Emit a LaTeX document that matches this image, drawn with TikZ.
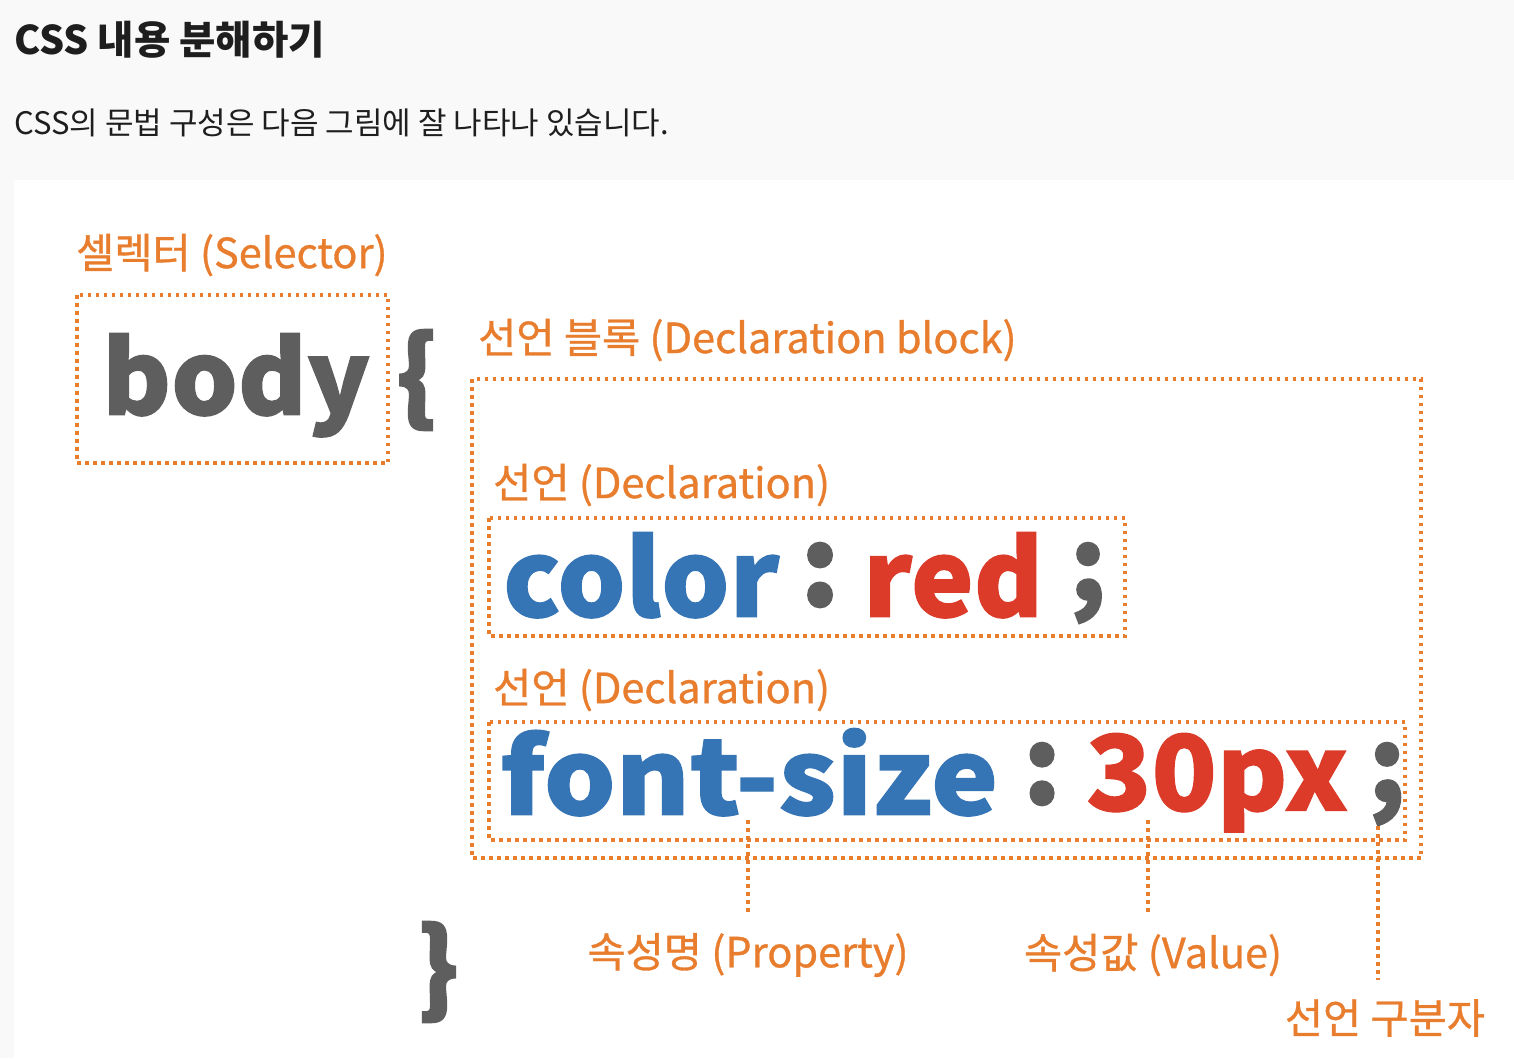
\documentclass[tikz,border=0pt]{standalone}
\usepackage{fontspec}
\usepackage{graphicx}
\setmainfont{Noto Sans CJK KR}
\newfontfamily\krfont{Noto Sans CJK KR}
\newfontfamily\krcode[FakeBold=1.2]{Noto Sans CJK KR}
\newfontfamily\krlbl[FakeBold=0.8]{Noto Sans CJK KR}
\newfontfamily\krheavy[FakeBold=2.5]{Noto Sans CJK KR}
\definecolor{bgtop}{HTML}{F9F9F9}
\definecolor{orng}{HTML}{E87D2E}
\definecolor{codeblue}{HTML}{3574B5}
\definecolor{codered}{HTML}{DB3B28}
\definecolor{codegray}{HTML}{5E5E5E}
\definecolor{txtdark}{HTML}{1E1E1E}
\newcommand{\codefit}[3]{\resizebox*{#1pt}{#2pt}{\krcode\bfseries\fontsize{120}{130}\selectfont #3}}
\newcommand{\punctfit}[2]{\resizebox*{!}{#1pt}{\krheavy\bfseries\fontsize{120}{130}\selectfont #2}}
\tikzset{
  dotline/.style={draw=orng, line width=3.5pt, dash pattern=on 3.5pt off 4.5pt},
  lbl/.style={text=orng, font=\krlbl\fontsize{41.5}{46}\selectfont, inner sep=0pt},
  code/.style={inner sep=0pt, anchor=north west},
  punct/.style={inner sep=0pt, anchor=center, text=codegray},
}
\begin{document}
\begin{tikzpicture}[x=1pt,y=-1pt]
\useasboundingbox (0,0) rectangle (1514,1058);
\fill[bgtop] (0,0) rectangle (1514,1058);
\fill[white] (14,180) rectangle (1514,1058);

% header texts
\node[anchor=west, inner sep=0pt, text=txtdark, font=\krfont\bfseries\fontsize{39.5}{46}\selectfont] (title) at (14,40) {CSS 내용 분해하기};
\node[anchor=west, inner sep=0pt, text=txtdark, font=\krfont\fontsize{31}{36}\selectfont] (sub) at (14,123) {CSS의 문법 구성은 다음 그림에 잘 나타나 있습니다.};

% boxes
\draw[dotline] (77,295) rectangle (388,463);
\draw[dotline] (472,379) rectangle (1421,858);
\draw[dotline] (489,518) rectangle (1125,636);
\draw[dotline] (489,722) rectangle (1405,840);

% labels
\node[lbl, anchor=west] (sel) at (76,255) {셀렉터 (Selector)};
\node[lbl, anchor=west] (blk) at (478,340) {선언 블록 (Declaration block)};
\node[lbl, anchor=west] (dec1) at (493,485) {선언 (Declaration)};
\node[lbl, anchor=west] (dec2) at (493,690) {선언 (Declaration)};
\node[lbl] (prop) at (748,955) {속성명 (Property)};
\node[lbl] (val) at (1153,955) {속성값 (Value)};
\node[lbl] (sep) at (1385,1018) {선언 구분자};

% code
\node[code, text=codegray] (body) at (102,333) {\codefit{268}{104}{body}};
\node[code, text=codeblue] (color) at (503,532) {\codefit{276}{86}{color}};
\node[code, text=codered] (red) at (863,532) {\codefit{180}{86}{red}};
\node[code, text=codeblue] (fs) at (500,728) {\codefit{498}{88}{font-size}};
\node[code, text=codered] (px) at (1086,733) {\codefit{262}{99}{30px}};

% punctuation
\node[punct] (lbr) at (417,380) {\punctfit{100}{\{}};
\node[punct] (col1) at (820,575) {\punctfit{64}{:}};
\node[punct] (sc1) at (1088,583) {\punctfit{80}{;}};
\node[punct] (col2) at (1042,774) {\punctfit{62}{:}};
\node[punct] (sc2) at (1387,784) {\punctfit{82}{;}};
\node[punct] (rbr) at (438,972) {\punctfit{100}{\}}};

% pointers
\coordinate (pp) at (748,820);
\coordinate (pv) at (1148,820);
\coordinate (ps) at (1378,826);
\draw[dotline] (pp) -- (pp |- 0,915);
\draw[dotline] (pv) -- (pv |- 0,915);
\draw[dotline] (ps) -- (ps |- 0,980);
\end{tikzpicture}
\end{document}
